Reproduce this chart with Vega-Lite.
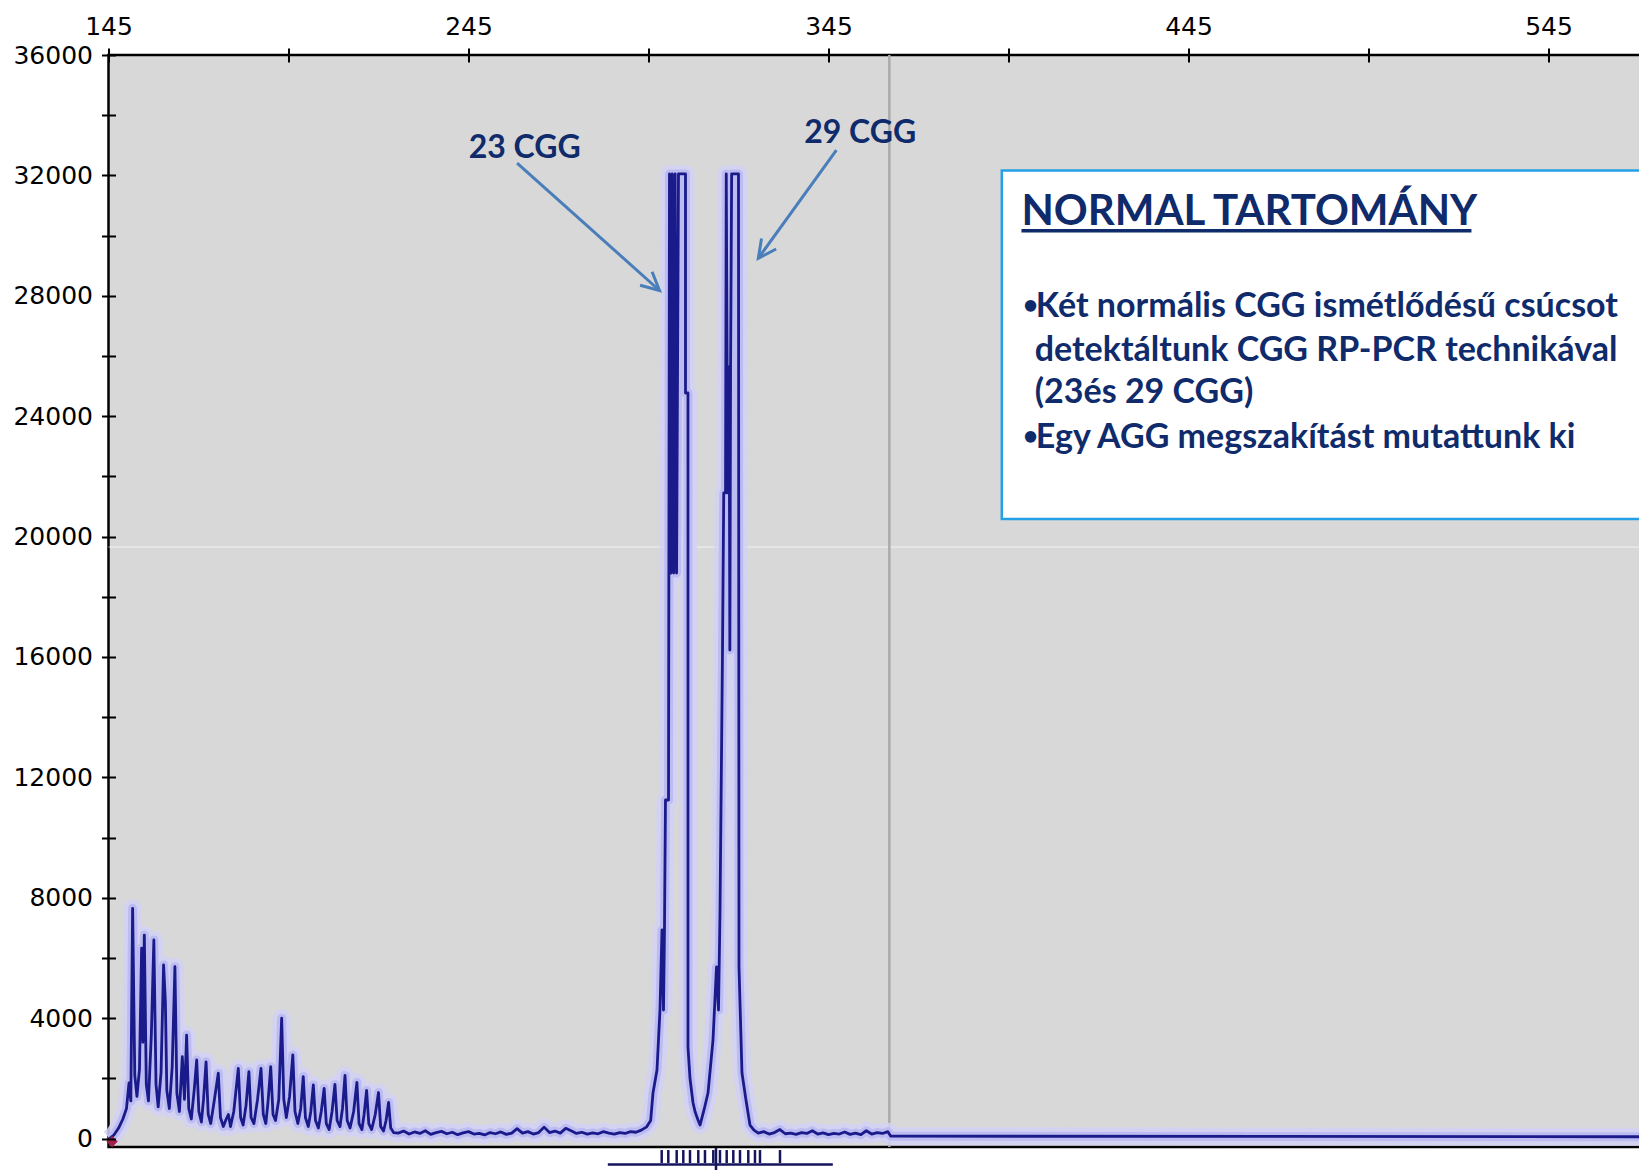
{
  "$schema": "https://vega.github.io/schema/vega-lite/v6.json",
  "width": 1532,
  "height": 1092,
  "autosize": {"type": "none"},
  "padding": {"left": 108.5, "top": 55, "right": 0, "bottom": 23},
  "background": "#ffffff",
  "config": {"view": {"fill": "#d8d8d8", "stroke": "#000000", "strokeWidth": 2.5}},
  "datasets": {
    "trace": [
      {"x":145.3,"y":0},{"x":146.5,"y":120},{"x":147.8,"y":350},{"x":149.0,"y":650},{"x":150.0,"y":1000},{"x":150.7,"y":1850},{"x":151.2,"y":1250},{"x":151.7,"y":7650},{"x":152.3,"y":2100},{"x":152.9,"y":1400},
      {"x":153.6,"y":2300},{"x":154.2,"y":6330},{"x":154.55,"y":3200},{"x":154.95,"y":6760},{"x":155.5,"y":1800},{"x":156.1,"y":1250},{"x":156.9,"y":3440},{"x":157.6,"y":6600},{"x":158.2,"y":1800},{"x":158.8,"y":1050},
      {"x":159.6,"y":2200},{"x":160.3,"y":5770},{"x":160.8,"y":4550},{"x":161.2,"y":1600},{"x":161.9,"y":1000},{"x":162.7,"y":2400},{"x":163.45,"y":5710},{"x":164.0,"y":1500},{"x":164.7,"y":900},{"x":165.5,"y":2720},
      {"x":166.1,"y":1300},{"x":166.7,"y":3440},{"x":167.3,"y":1000},{"x":168.0,"y":650},{"x":168.8,"y":1600},{"x":169.5,"y":2610},{"x":170.1,"y":900},{"x":170.8,"y":550},{"x":171.4,"y":1300},{"x":172.1,"y":2550},
      {"x":172.7,"y":800},{"x":173.4,"y":500},{"x":174.3,"y":1200},{"x":175.5,"y":2170},{"x":176.1,"y":700},{"x":176.9,"y":400},{"x":177.7,"y":650},{"x":178.3,"y":800},{"x":178.9,"y":400},{"x":179.8,"y":900},
      {"x":181.06,"y":2330},{"x":181.7,"y":700},{"x":182.4,"y":450},{"x":183.2,"y":1100},{"x":184.0,"y":2220},{"x":184.6,"y":700},{"x":185.4,"y":500},{"x":186.4,"y":1300},{"x":187.36,"y":2330},{"x":188.0,"y":800},
      {"x":188.7,"y":500},{"x":189.3,"y":1200},{"x":190.06,"y":2390},{"x":190.7,"y":800},{"x":191.4,"y":600},{"x":192.3,"y":1300},{"x":193.1,"y":4000},{"x":193.7,"y":1300},{"x":194.4,"y":700},{"x":195.3,"y":1400},
      {"x":196.2,"y":2780},{"x":196.8,"y":900},{"x":197.6,"y":500},{"x":198.4,"y":1000},{"x":199.1,"y":2060},{"x":199.7,"y":700},{"x":200.5,"y":400},{"x":201.2,"y":900},{"x":201.9,"y":1780},{"x":202.5,"y":600},
      {"x":203.3,"y":350},{"x":204.1,"y":900},{"x":204.9,"y":1670},{"x":205.5,"y":500},{"x":206.3,"y":300},{"x":207.1,"y":900},{"x":207.9,"y":1800},{"x":208.5,"y":600},{"x":209.3,"y":400},{"x":210.0,"y":1000},
      {"x":210.7,"y":2100},{"x":211.3,"y":600},{"x":212.1,"y":350},{"x":213.1,"y":900},{"x":214.0,"y":1870},{"x":214.6,"y":500},{"x":215.4,"y":300},{"x":216.0,"y":800},{"x":216.7,"y":1600},{"x":217.3,"y":500},
      {"x":218.1,"y":300},{"x":219.1,"y":800},{"x":220.0,"y":1530},{"x":220.6,"y":400},{"x":221.4,"y":250},{"x":222.1,"y":600},{"x":222.8,"y":1200},{"x":223.4,"y":350},{"x":224.2,"y":200},
      {"x":225.5,"y":180},{"x":227,"y":250},{"x":228.5,"y":150},{"x":230,"y":220},{"x":231.5,"y":170},{"x":233,"y":260},{"x":234.5,"y":140},{"x":236,"y":200},{"x":237.5,"y":240},{"x":239,"y":160},
      {"x":240.5,"y":210},{"x":242,"y":130},{"x":243.5,"y":190},{"x":245,"y":230},{"x":246.5,"y":150},{"x":248,"y":170},{"x":249.5,"y":120},{"x":251,"y":200},{"x":252.5,"y":160},{"x":254,"y":220},
      {"x":255.5,"y":140},{"x":257,"y":180},{"x":258.5,"y":330},{"x":260,"y":180},{"x":261.5,"y":230},{"x":263,"y":150},{"x":264.5,"y":200},{"x":266,"y":380},{"x":267.5,"y":200},{"x":269,"y":250},
      {"x":270.5,"y":180},{"x":272,"y":340},{"x":273.5,"y":260},{"x":275,"y":170},{"x":276.5,"y":210},{"x":278,"y":150},{"x":279.5,"y":190},{"x":281,"y":160},{"x":282.5,"y":230},{"x":284,"y":180},
      {"x":285.5,"y":150},{"x":287,"y":200},{"x":288.5,"y":170},{"x":290,"y":230},{"x":291.5,"y":210},{"x":293,"y":280},{"x":294.5,"y":390},{"x":295.6,"y":600},
      {"x":296.25,"y":1513},{"x":297.36,"y":2278},{"x":298.19,"y":4271},{"x":298.75,"y":6929},{"x":299.17,"y":4271},{"x":299.44,"y":6929},{"x":299.72,"y":11248},{"x":300.56,"y":11248},{"x":300.83,"y":32050},{"x":301.25,"y":18790},
      {"x":301.6,"y":32050},{"x":302.0,"y":18790},{"x":302.4,"y":32050},{"x":302.8,"y":18790},{"x":303.33,"y":32050},{"x":305.28,"y":32050},{"x":305.28,"y":24770},{"x":305.97,"y":24770},{"x":305.97,"y":3041},{"x":306.53,"y":2000},{"x":307.36,"y":1200},{"x":307.92,"y":900},
      {"x":308.75,"y":616},{"x":309.31,"y":450},{"x":310.42,"y":950},{"x":311.53,"y":1513},{"x":312.92,"y":3275},{"x":313.89,"y":5700},{"x":314.44,"y":4270},{"x":314.86,"y":7480},{"x":315.56,"y":16230},{"x":315.9,"y":21450},
      {"x":316.4,"y":21450},{"x":316.6,"y":32050},{"x":317.0,"y":21450},{"x":317.4,"y":25640},{"x":317.6,"y":16230},{"x":317.8,"y":25640},{"x":318.1,"y":32050},{"x":320.0,"y":32050},{"x":320.14,"y":5700},{"x":320.97,"y":2180},
      {"x":322.08,"y":1280},{"x":323.19,"y":450},{"x":324.3,"y":280},{"x":325.5,"y":180},{"x":327,"y":230},{"x":328.5,"y":150},{"x":330,"y":200},{"x":331.5,"y":300},{"x":333,"y":160},{"x":334.5,"y":180},
      {"x":336,"y":140},{"x":337.5,"y":200},{"x":339,"y":170},{"x":340.5,"y":260},{"x":342,"y":150},{"x":343.5,"y":190},{"x":345,"y":130},{"x":346.5,"y":170},{"x":348,"y":150},{"x":349.5,"y":220},
      {"x":351,"y":140},{"x":352.5,"y":180},{"x":354,"y":130},{"x":355.5,"y":260},{"x":357,"y":150},{"x":358.5,"y":200},{"x":360,"y":170},{"x":361.5,"y":230},{"x":362.3,"y":80},{"x":570.5,"y":60}
    ],
    "bracket": [
      {"x":298.67,"x2":298.67,"y":-381,"y2":-813},{"x":300.5,"x2":300.5,"y":-381,"y2":-813},{"x":302.83,"x2":302.83,"y":-381,"y2":-813},{"x":304.67,"x2":304.67,"y":-381,"y2":-813},
      {"x":306.53,"x2":306.53,"y":-381,"y2":-813},{"x":308.83,"x2":308.83,"y":-381,"y2":-813},{"x":310.69,"x2":310.69,"y":-381,"y2":-813},{"x":313.0,"x2":313.0,"y":-381,"y2":-813},
      {"x":313.75,"x2":313.75,"y":-314,"y2":-1045},{"x":314.86,"x2":314.86,"y":-381,"y2":-813},{"x":316.72,"x2":316.72,"y":-381,"y2":-813},{"x":318.56,"x2":318.56,"y":-381,"y2":-813},
      {"x":320.42,"x2":320.42,"y":-381,"y2":-813},{"x":322.72,"x2":322.72,"y":-381,"y2":-813},{"x":324.58,"x2":324.58,"y":-381,"y2":-813},{"x":325.97,"x2":325.97,"y":-381,"y2":-813},
      {"x":331.53,"x2":331.53,"y":-381,"y2":-813},{"x":283.7,"x2":346.2,"y":-862,"y2":-862}
    ],
    "bullets": [
      {"x":402.6,"y":27305,"t":"Két normális CGG ismétlődésű csúcsot"},
      {"x":402.3,"y":25850,"t":"detektáltunk CGG RP-PCR technikával"},
      {"x":402.3,"y":24454,"t":"(23és 29 CGG)"},
      {"x":402.6,"y":22959,"t":"Egy AGG megszakítást mutattunk ki"}
    ],
    "dots": [
      {"x":399.0,"y":27305,"t":"•"},
      {"x":399.0,"y":22959,"t":"•"}
    ],
    "labels": [
      {"x":260.6,"y":32897,"t":"23 CGG"},
      {"x":353.8,"y":33418,"t":"29 CGG"}
    ],
    "arrows": [
      {"x":258.5,"y":32411,"x2":298.06,"y2":28176},
      {"x":347.2,"y":32843,"x2":325.5,"y2":29245}
    ],
    "heads": [
      {"x":298.06,"y":28176,"n":"a23"},
      {"x":325.5,"y":29245,"n":"a29"}
    ]
  },
  "encoding": {
    "x": {
      "field": "x", "type": "quantitative",
      "scale": {"domain": [145, 570.56], "nice": false, "zero": false},
      "axis": {
        "orient": "top", "values": [145,195,245,295,345,395,445,495,545],
        "labelExpr": "(datum.value - 145) % 100 == 0 ? datum.label : ''",
        "format": "d", "title": null, "domain": false, "grid": false,
        "tickSize": 14, "tickWidth": 2, "tickColor": "#000000", "offset": -7,
        "labelFont": "DejaVu Sans", "labelFontSize": 25, "labelColor": "#000000",
        "labelPadding": 9, "labelOverlap": false, "labelFlush": false, "zindex": 1
      }
    },
    "y": {
      "field": "y", "type": "quantitative",
      "scale": {"domain": [-280, 36000], "nice": false, "zero": false},
      "axis": {
        "orient": "left", "values": [0,2000,4000,6000,8000,10000,12000,14000,16000,18000,20000,22000,24000,26000,28000,30000,32000,34000,36000],
        "labelExpr": "datum.value % 4000 == 0 ? datum.label : ''",
        "format": "d", "title": null, "domain": false, "grid": false,
        "tickSize": 14, "tickWidth": 2, "tickColor": "#000000", "offset": -7,
        "labelFont": "DejaVu Sans", "labelFontSize": 25, "labelColor": "#000000",
        "labelPadding": 9, "labelOverlap": false, "zindex": 1
      }
    }
  },
  "layer": [
    {
      "data": {"values": [{"x": 145, "x2": 570.56, "y": 19653}]},
      "mark": {"type": "rule", "color": "#ffffff", "strokeWidth": 1, "opacity": 0.7},
      "encoding": {"x2": {"field": "x2"}}
    },
    {
      "data": {"values": [{"x": 361.9, "y": -280, "y2": 36000}]},
      "mark": {"type": "rule", "color": "#ababab", "strokeWidth": 2.5},
      "encoding": {"y2": {"field": "y2"}}
    },
    {
      "data": {"name": "trace"},
      "mark": {"type": "line", "color": "#d2d2f6", "strokeWidth": 18, "opacity": 0.85, "strokeJoin": "round"},
      "encoding": {}
    },
    {
      "data": {"name": "trace"},
      "mark": {"type": "line", "color": "#bcbcf2", "strokeWidth": 9, "opacity": 1, "strokeJoin": "round"},
      "encoding": {}
    },
    {
      "data": {"name": "trace"},
      "mark": {"type": "line", "color": "#1a1a8a", "strokeWidth": 2.8, "strokeJoin": "round"},
      "encoding": {}
    },
    {
      "data": {"name": "bracket"},
      "mark": {"type": "rule", "color": "#15155e", "strokeWidth": 2.5},
      "encoding": {"x2": {"field": "x2"}, "y2": {"field": "y2"}}
    },
    {
      "data": {"values": [{"x": 146, "y": -100}]},
      "mark": {"type": "point", "shape": "diamond", "filled": true, "color": "#a0204c", "size": 130, "opacity": 1}
    },
    {
      "data": {"values": [{"x": 393.14, "x2": 580, "y": 20584, "y2": 32162}]},
      "mark": {"type": "rect", "fill": "#ffffff", "stroke": "#24a0e4", "strokeWidth": 2.5},
      "encoding": {"x2": {"field": "x2"}, "y2": {"field": "y2"}}
    },
    {
      "data": {"values": [{"x": 398.6, "y": 30352, "t": "NORMAL TARTOMÁNY"}]},
      "mark": {"type": "text", "align": "left", "baseline": "alphabetic", "font": "Lato", "fontWeight": "bold", "fontSize": 42, "color": "#0f2b6b"},
      "encoding": {"text": {"field": "t"}}
    },
    {
      "data": {"values": [{"x": 398.6, "x2": 523.6, "y": 30159}]},
      "mark": {"type": "rule", "color": "#0f2b6b", "strokeWidth": 3.5},
      "encoding": {"x2": {"field": "x2"}}
    },
    {
      "data": {"name": "bullets"},
      "mark": {"type": "text", "align": "left", "baseline": "alphabetic", "font": "Lato", "fontWeight": "bold", "fontSize": 34, "color": "#0f2b6b"},
      "encoding": {"text": {"field": "t"}}
    },
    {
      "data": {"name": "dots"},
      "mark": {"type": "text", "align": "left", "baseline": "alphabetic", "font": "Lato", "fontWeight": "bold", "fontSize": 26, "color": "#0f2b6b", "dy": -3},
      "encoding": {"text": {"field": "t"}}
    },
    {
      "data": {"name": "labels"},
      "mark": {"type": "text", "align": "center", "baseline": "middle", "font": "Lato", "fontWeight": "bold", "fontSize": 32, "color": "#0f2b6b"},
      "encoding": {"text": {"field": "t"}}
    },
    {
      "data": {"name": "arrows"},
      "mark": {"type": "rule", "color": "#4a7ebb", "strokeWidth": 3},
      "encoding": {"x2": {"field": "x2"}, "y2": {"field": "y2"}}
    },
    {
      "data": {"name": "heads"},
      "transform": [{"filter": "datum.n == 'a23'"}],
      "mark": {"type": "point", "shape": "M -0.45 0.9 L 0 0 L 0.45 0.9", "filled": false, "stroke": "#4a7ebb", "strokeWidth": 3, "size": 1600, "angle": 131.8, "opacity": 1}
    },
    {
      "data": {"name": "heads"},
      "transform": [{"filter": "datum.n == 'a29'"}],
      "mark": {"type": "point", "shape": "M -0.45 0.9 L 0 0 L 0.45 0.9", "filled": false, "stroke": "#4a7ebb", "strokeWidth": 3, "size": 1600, "angle": 215.8, "opacity": 1}
    }
  ]
}
